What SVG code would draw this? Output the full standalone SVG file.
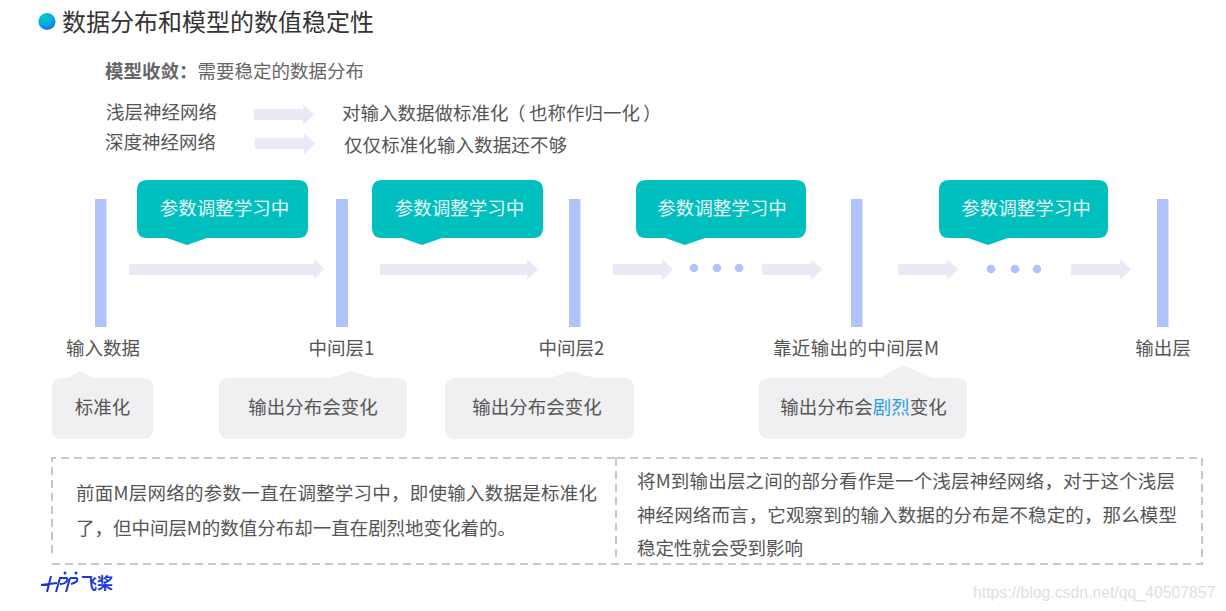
<svg xmlns="http://www.w3.org/2000/svg" width="1226" height="611" viewBox="0 0 1226 611">
<style>
text{font-family:"Noto Sans CJK SC","Liberation Sans",sans-serif;font-size:18.500px;fill:#555}
.c{text-anchor:middle}
.w{fill:#e6f7f6;text-anchor:middle}
.bar{fill:#b1c3fb}
.arr{fill:#e8eaf5}
.dot{fill:#b1c3fb}
.call{fill:#00bfbf}
.grey{fill:#f0f0f2}
.dash{fill:none;stroke:#b8b8b8;stroke-width:1.6;stroke-dasharray:8 5}
</style>
<defs>
<radialGradient id="ball" cx="0.35" cy="0.2" r="0.95"><stop offset="0" stop-color="#00d0c0"/><stop offset="0.55" stop-color="#0aa0e8"/><stop offset="1" stop-color="#1060f0"/></radialGradient>
</defs>
<rect width="1226" height="611" fill="#fff"/>
<g id="title"><circle cx="47" cy="21.500" r="8.500" fill="url(#ball)"/><text x="62" y="31" style="font-size:24px;fill:#333">数据分布和模型的数值稳定性</text></g>
<g id="intro">
<text x="105" y="78" textLength="259" style="font-weight:700;fill:#666">模型收敛&#xFF1A;<tspan style="font-weight:400">需要稳定的数据分布</tspan></text>
<text x="106" y="119" textLength="111">浅层神经网络</text>
<text x="105" y="149" textLength="111">深度神经网络</text>
<text x="342" y="120">对输入数据做标准化<tspan x="507">&#xFF08;</tspan><tspan x="529">也称作归一化</tspan><tspan x="643">&#xFF09;</tspan></text>
<text x="344" y="152" textLength="223">仅仅标准化输入数据还不够</text>
</g>
<g id="connectors">
<path class="arr" d="M254 109H303V104L314 114.500L303 125V120H254Z"/>
<path class="arr" d="M255 138H304V133L315 143.500L304 155V149H255Z"/>
<path class="arr" d="M129 264H314V259L325 269L314 279V275H129Z"/>
<path class="arr" d="M380 264H527V259L538 269.500L527 280V275H380Z"/>
<path class="arr" d="M613 264H662V259L673 269.500L662 280V275H613Z"/>
<path class="arr" d="M762 264H811V259L822 269.500L811 280V275H762Z"/>
<path class="arr" d="M898 264H947V259L958 269.500L947 280V275H898Z"/>
<path class="arr" d="M1071 264H1120V259L1131 269.500L1120 280V275H1071Z"/>
</g>
<g id="dots1"><circle class="dot" cx="694" cy="268" r="4.300"/><circle class="dot" cx="717" cy="268" r="4.300"/><circle class="dot" cx="739" cy="268" r="4.300"/></g>
<g id="dots2"><circle class="dot" cx="991" cy="269" r="4.300"/><circle class="dot" cx="1015" cy="269" r="4.300"/><circle class="dot" cx="1037" cy="269" r="4.300"/></g>
<g id="layer-input"><rect class="bar" x="95" y="199" width="11.500" height="128"/><text class="c" x="103" y="355">输入数据</text></g>
<g id="layer-1"><rect class="bar" x="336" y="199" width="12" height="128"/><text class="c" x="341.500" y="355">中间层1</text></g>
<g id="layer-2"><rect class="bar" x="569" y="199" width="11.500" height="128"/><text class="c" x="571.500" y="355">中间层2</text></g>
<g id="layer-m"><rect class="bar" x="851" y="199" width="11.500" height="128"/><text class="c" x="856" y="355" textLength="166">靠近输出的中间层M</text></g>
<g id="layer-output"><rect class="bar" x="1157" y="199" width="11.500" height="128"/><text class="c" x="1163" y="355">输出层</text></g>
<g id="callout-1"><path class="call" d="M147 180H298Q308 180 308 190V228Q308 238 298 238H207L187 245L167 238H147Q137 238 137 228V190Q137 180 147 180Z"/><text class="w" x="224.500" y="215">参数调整学习中</text></g>
<g id="callout-2"><path class="call" d="M382 180H533Q543 180 543 190V228Q543 238 533 238H442L422 245L402 238H382Q372 238 372 228V190Q372 180 382 180Z"/><text class="w" x="459.500" y="215">参数调整学习中</text></g>
<g id="callout-3"><path class="call" d="M646 180H796Q806 180 806 190V228Q806 238 796 238H705L685 245L665 238H646Q636 238 636 228V190Q636 180 646 180Z"/><text class="w" x="722" y="215">参数调整学习中</text></g>
<g id="callout-4"><path class="call" d="M949 180H1098Q1108 180 1108 190V228Q1108 238 1098 238H1008L988 245L968 238H949Q939 238 939 228V190Q939 180 949 180Z"/><text class="w" x="1026" y="215">参数调整学习中</text></g>
<g id="note-1"><path class="grey" d="M62 378H69L80 371L93 378H143Q153 378 153 388V429Q153 439 143 439H62Q52 439 52 429V388Q52 378 62 378Z"/><text class="c" x="102.500" y="414">标准化</text></g>
<g id="note-2"><path class="grey" d="M229 378H330L351 371L375 378H397Q407 378 407 388V429Q407 439 397 439H229Q219 439 219 429V388Q219 378 229 378Z"/><text class="c" x="313" y="414">输出分布会变化</text></g>
<g id="note-3"><path class="grey" d="M455 378H550L571 371L595 378H624Q634 378 634 388V429Q634 439 624 439H455Q445 439 445 429V388Q445 378 455 378Z"/><text class="c" x="537" y="414">输出分布会变化</text></g>
<g id="note-m"><path class="grey" d="M769 378H880L903 365L932 378H957Q967 378 967 388V429Q967 439 957 439H769Q759 439 759 429V388Q759 378 769 378Z"/><text class="c" x="863.500" y="414">输出分布会<tspan style="fill:#2a9fe8">剧烈</tspan>变化</text></g>
<g id="explain-left"><path class="dash" d="M52 553V458H617"/><path class="dash" d="M52 564H617"/><text x="76" y="500" textLength="521">前面M层网络的参数一直在调整学习中&#xFF0C;即使输入数据是标准化</text><text x="76" y="535" textLength="440">了&#xFF0C;但中间层M的数值分布却一直在剧烈地变化着的。</text></g>
<g id="explain-right"><path class="dash" d="M617 458H1202V564H617"/><path class="dash" d="M616 458V562"/><text x="637" y="488" textLength="538">将M到输出层之间的部分看作是一个浅层神经网络&#xFF0C;对于这个浅层</text><text x="637" y="522" textLength="540">神经网络而言&#xFF0C;它观察到的输入数据的分布是不稳定的&#xFF0C;那么模型</text><text x="637" y="555" textLength="166">稳定性就会受到影响</text></g>
<g id="logo"><path d="M41 585L57 583M51 576L47 592M59 578H66Q68 578 67 581Q65 584 60 584M60 578L56 592M70 578H76Q78 578 77 581Q75 583 71 584M70 578L66 592" fill="none" stroke="#1a35d8" stroke-width="2"/><circle cx="65" cy="573" r="1.500" fill="#1a35d8"/><circle cx="76" cy="573" r="1.500" fill="#1a35d8"/><text x="81" y="589" style="font-size:16px;font-weight:700;fill:#1a35d8">飞桨</text></g>
<text x="973" y="598" style="font-family:'Liberation Sans',sans-serif;font-size:15.800px;fill:#e0e0e0">https://blog.csdn.net/qq_40507857</text>
</svg>
